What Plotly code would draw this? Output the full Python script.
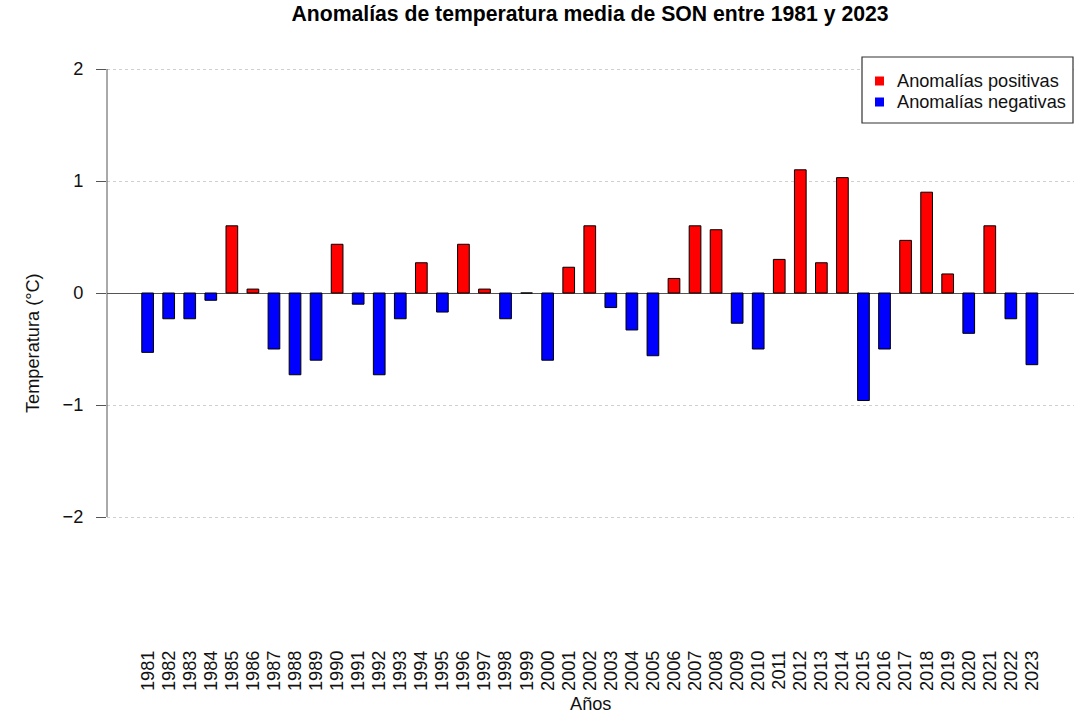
import plotly.graph_objects as go

years = list(range(1981, 2024))
anomalies = [
    -0.53, -0.23, -0.23, -0.065, 0.60, 0.035, -0.50, -0.73, -0.60, 0.435,
    -0.10, -0.73, -0.23, 0.27, -0.17, 0.435, 0.035, -0.23, 0.0, -0.60,
    0.23, 0.60, -0.13, -0.33, -0.56, 0.13, 0.60, 0.565, -0.27, -0.50,
    0.30, 1.10, 0.27, 1.03, -0.96, -0.50, 0.47, 0.90, 0.17, -0.36,
    0.60, -0.23, -0.64,
]
y_ticks = [-2, -1, 0, 1, 2]
y_ticktext = ["\u22122", "\u22121", "0", "1", "2"]
legend_labels = ["Anomalías positivas", "Anomalías negativas"]
legend_colors = ["#ff0000", "#0000ff"]

pos_x = [y for y, v in zip(years, anomalies) if v >= 0]
pos_y = [v for v in anomalies if v >= 0]
neg_x = [y for y, v in zip(years, anomalies) if v < 0]
neg_y = [v for v in anomalies if v < 0]

FONT = "Liberation Sans, Arial, sans-serif"
BAR_W = 0.556
FS = 18.2

# plot-area geometry in pixels
L, R, T, B = 107, 1074, 57, 632
W, H = R - L, B - T


def px_x(px):
    return (px - L) / W


def px_y(py):
    return (B - py) / H


fig = go.Figure()
fig.add_trace(go.Bar(x=pos_x, y=pos_y, width=BAR_W,
                     marker=dict(color=legend_colors[0], line=dict(color="#000000", width=1)),
                     showlegend=False, hoverinfo="x+y"))
fig.add_trace(go.Bar(x=neg_x, y=neg_y, width=BAR_W,
                     marker=dict(color=legend_colors[1], line=dict(color="#000000", width=1)),
                     showlegend=False, hoverinfo="x+y"))

# R-style y axis line spanning -2..2
fig.add_shape(type="line", xref="paper", yref="y", x0=0, x1=0, y0=-2, y1=2,
              line=dict(color="#555555", width=1))

# manual legend (R style)
fig.add_shape(type="rect", xref="paper", yref="paper", layer="above",
              x0=px_x(862), x1=px_x(1073), y0=px_y(123), y1=px_y(57),
              line=dict(color="#333333", width=1.2), fillcolor="white")
row_y = [81, 102]
for lab, col, ry in zip(legend_labels, legend_colors, row_y):
    fig.add_shape(type="rect", xref="paper", yref="paper", layer="above",
                  x0=px_x(875), x1=px_x(884), y0=px_y(ry + 4.5), y1=px_y(ry - 4.5),
                  line=dict(width=0), fillcolor=col)
    fig.add_annotation(text=lab, xref="paper", yref="paper", x=px_x(895), y=px_y(ry),
                       xanchor="left", yanchor="middle", showarrow=False,
                       font=dict(size=FS, color="#111111"))

fig.update_layout(
    width=1083, height=714,
    margin=dict(l=L, r=1083 - R, t=T, b=714 - B, autoexpand=False),
    paper_bgcolor="white", plot_bgcolor="white",
    barmode="overlay",
    font=dict(family=FONT, size=FS, color="#111111"),
    title=dict(text="<b>Anomalías de temperatura media de SON entre 1981 y 2023</b>",
               x=590 / 1083, xanchor="center", y=1 - 14 / 714, yanchor="middle",
               font=dict(family=FONT, size=21.2, color="#000000")),
    showlegend=False,
)
fig.update_xaxes(range=[1979.07, 2025.0], tickmode="array", tickvals=years,
                 ticktext=[str(y) for y in years], tickangle=-90, showgrid=False,
                 showline=False, zeroline=False, ticks="", ticklabelstandoff=14,
                 tickfont=dict(size=FS), automargin=False)
fig.update_yaxes(range=[-2 - (B - 517) / 112, 2 + (69 - T) / 112], tickmode="array",
                 tickvals=y_ticks, ticktext=y_ticktext,
                 showgrid=True, gridcolor="#cfcfcf", griddash="dot", gridwidth=1,
                 zeroline=True, zerolinecolor="#555555", zerolinewidth=1,
                 showline=False, ticks="outside", ticklen=10, tickcolor="#555555",
                 ticklabelstandoff=9, tickfont=dict(size=FS), automargin=False)

fig.add_annotation(text="Años", xref="paper", yref="paper", x=0.5, y=px_y(704),
                   xanchor="center", yanchor="middle", showarrow=False, font=dict(size=FS))
fig.add_annotation(text="Temperatura (°C)", xref="paper", yref="paper", x=px_x(33),
                   y=px_y(343), xanchor="center", yanchor="middle", textangle=-90,
                   showarrow=False, font=dict(size=FS))

fig.write_html("out.html", config={"displayModeBar": False},
               post_script="document.body.style.margin='0px';")
